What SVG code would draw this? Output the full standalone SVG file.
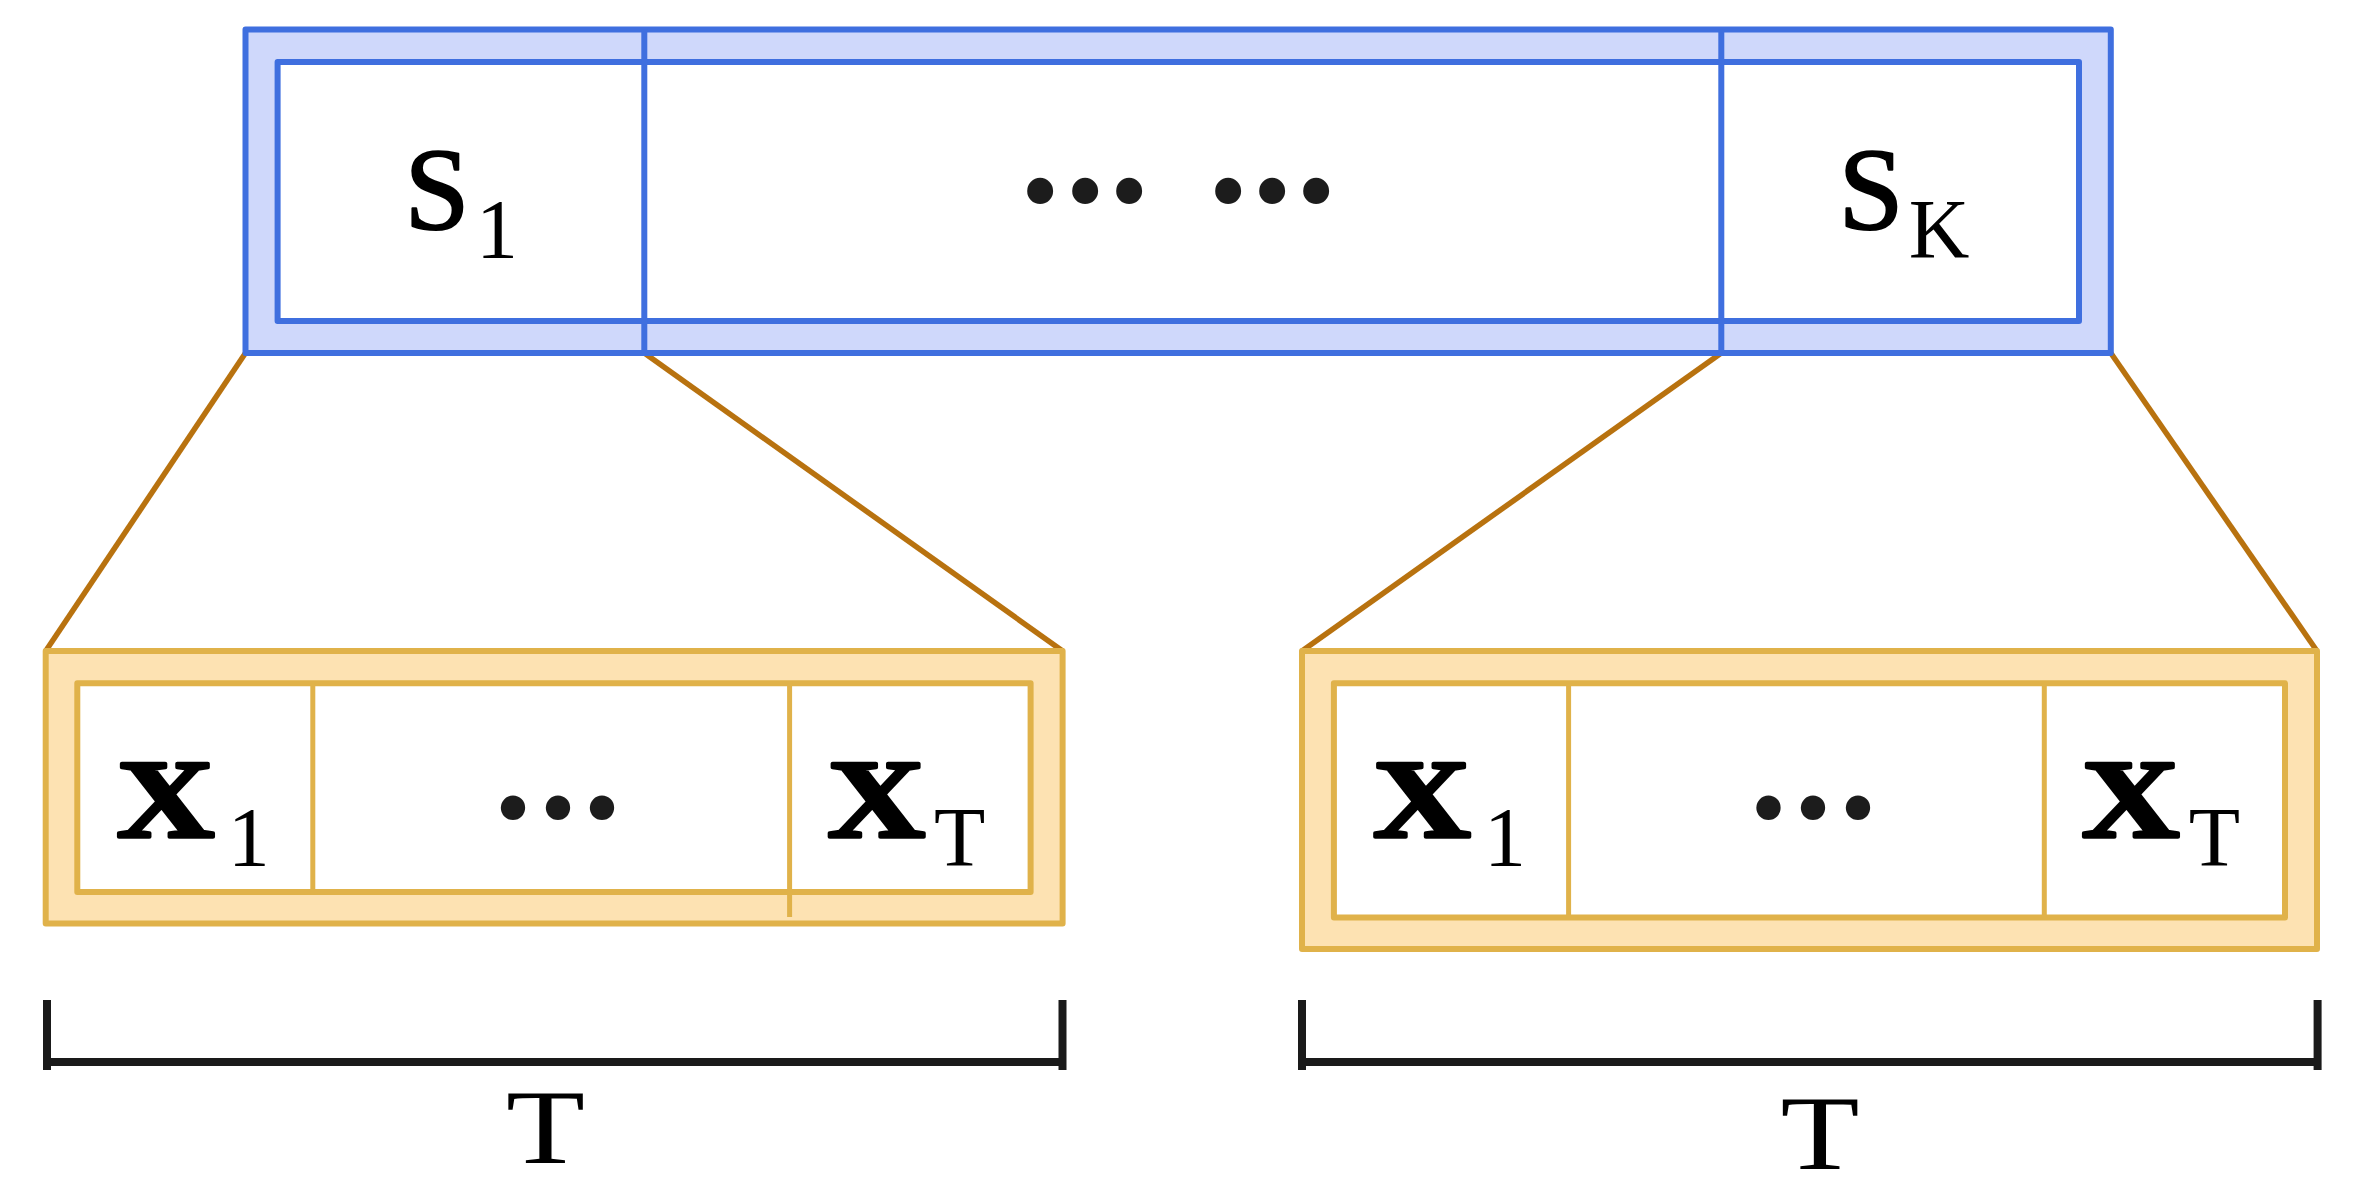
<svg xmlns="http://www.w3.org/2000/svg" width="2363" height="1202" viewBox="0 0 2363 1202">
<style>
.blue-outer{fill:#cfd8fb;stroke:#3f6fdf;stroke-width:6;stroke-linejoin:round}
.blue-inner{fill:#ffffff;stroke:#3f6fdf;stroke-width:6;stroke-linejoin:round}
.blue-div{stroke:#3f6fdf;stroke-width:6;fill:none}
.org-outer{fill:#fde2b2;stroke:#e0b24a;stroke-width:6;stroke-linejoin:round}
.org-inner{fill:#ffffff;stroke:#e0b24a;stroke-width:6;stroke-linejoin:round}
.org-div{stroke:#e0b24a;stroke-width:5;fill:none}
.conn{stroke:#b8720f;stroke-width:5.5;fill:none}
.bracket{stroke:#1a1a1a;stroke-width:8;fill:none}
.serif{font-family:"Liberation Serif","Times New Roman",serif;fill:#000}
.big{font-size:117px;stroke:#000;stroke-width:2;stroke-linejoin:round}
.sub{font-size:84px}
.bx{font-size:113px;font-weight:bold;stroke:#000;stroke-width:3.5;stroke-linejoin:round}
.dots{font-family:"Liberation Serif","Times New Roman",serif;font-weight:bold;fill:#1c1c1c}
</style>
<rect width="2363" height="1202" fill="#ffffff"/>
<g id="connectors">
<line class="conn" x1="245.5" y1="353" x2="45.7" y2="651"/>
<line class="conn" x1="644.3" y1="353" x2="1062.6" y2="651"/>
<line class="conn" x1="1721.3" y1="353" x2="1302" y2="651"/>
<line class="conn" x1="2110.8" y1="353" x2="2317" y2="651"/>
</g>
<g id="sequence">
<rect class="blue-outer" x="245.5" y="29.5" width="1865.3" height="323.5"/>
<rect class="blue-inner" x="277.6" y="62" width="1801.4" height="259"/>
<line class="blue-div" x1="644.3" y1="29.5" x2="644.3" y2="353"/>
<line class="blue-div" x1="1721.3" y1="29.5" x2="1721.3" y2="353"/>
<text class="serif" text-anchor="middle"><tspan class="big" x="437" y="229">S</tspan><tspan class="sub" x="497" y="258">1</tspan></text>
<text class="dots" font-size="160" text-anchor="middle" x="1040.3 1085.3 1129.3 1180 1228.3 1272.3 1316.3" y="243.5">··· ···</text>
<text class="serif" text-anchor="middle"><tspan class="big" x="1871" y="229">S</tspan><tspan class="sub" x="1939" y="258">K</tspan></text>
</g>
<g id="window-left">
<rect class="org-outer" x="45.7" y="651" width="1016.9" height="272.6"/>
<rect class="org-inner" x="77.3" y="683.3" width="953.3" height="208.7"/>
<line class="org-div" x1="312.8" y1="683.3" x2="312.8" y2="892"/>
<line class="org-div" x1="789.6" y1="683.3" x2="789.6" y2="917"/>
<text class="serif" text-anchor="middle"><tspan class="bx" x="165.5" y="837" textLength="98" lengthAdjust="spacingAndGlyphs">X</tspan><tspan class="sub" x="248.7" y="865.5">1</tspan></text>
<text class="dots" font-size="150" text-anchor="middle" x="513 558 602" y="858">···</text>
<text class="serif" text-anchor="middle"><tspan class="bx" x="876.3" y="837" textLength="98" lengthAdjust="spacingAndGlyphs">X</tspan><tspan class="sub" x="959.6" y="865.5">T</tspan></text>
</g>
<g id="window-right">
<rect class="org-outer" x="1302" y="651" width="1015" height="297.9"/>
<rect class="org-inner" x="1333.9" y="683.3" width="951.1" height="234.2"/>
<line class="org-div" x1="1568.6" y1="683.3" x2="1568.6" y2="917.5"/>
<line class="org-div" x1="2044.3" y1="683.3" x2="2044.3" y2="917.5"/>
<text class="serif" text-anchor="middle"><tspan class="bx" x="1421.8" y="837" textLength="98" lengthAdjust="spacingAndGlyphs">X</tspan><tspan class="sub" x="1505" y="865.5">1</tspan></text>
<text class="dots" font-size="150" text-anchor="middle" x="1768.6 1812.9 1857.9" y="858">···</text>
<text class="serif" text-anchor="middle"><tspan class="bx" x="2130.5" y="837" textLength="98" lengthAdjust="spacingAndGlyphs">X</tspan><tspan class="sub" x="2214.3" y="865.5">T</tspan></text>
</g>
<g id="span-left">
<path class="bracket" d="M47,1000 V1070 M43,1062 H1066.5 M1062.5,1000 V1070"/>
<text class="serif" font-size="106" text-anchor="middle" x="545.5" y="1162.5" textLength="79" lengthAdjust="spacingAndGlyphs">T</text>
</g>
<g id="span-right">
<path class="bracket" d="M1302,1000 V1070 M1298,1062 H2321.6 M2317.6,1000 V1070"/>
<text class="serif" font-size="106" text-anchor="middle" x="1820" y="1169" textLength="79" lengthAdjust="spacingAndGlyphs">T</text>
</g>
</svg>
